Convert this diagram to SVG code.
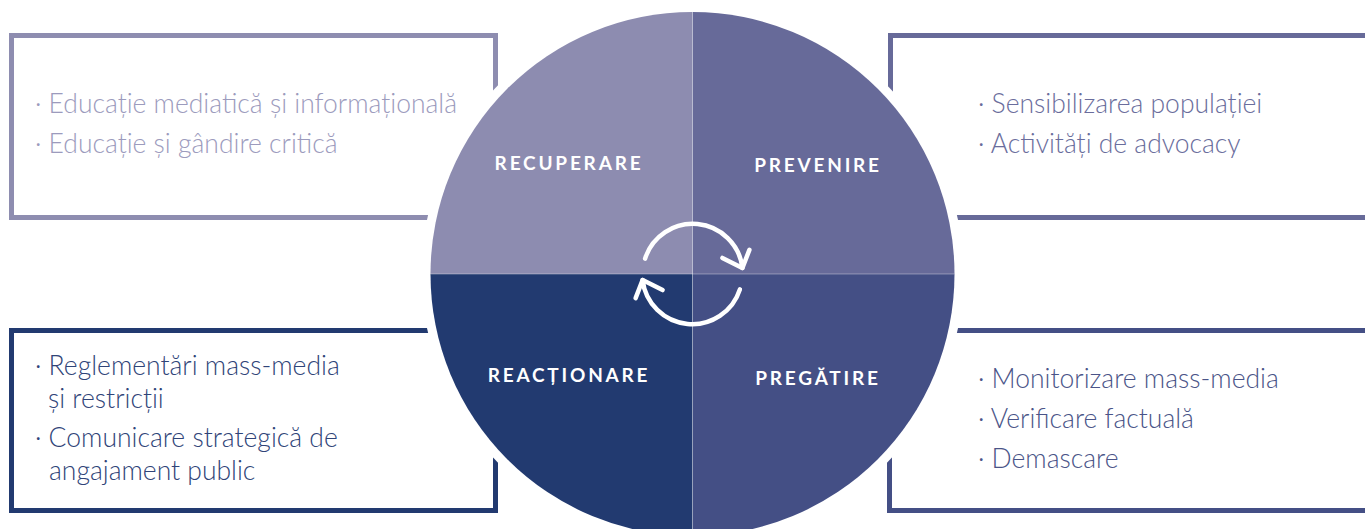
<svg xmlns="http://www.w3.org/2000/svg" width="1365" height="529" viewBox="0 0 1365 529">
<style>
.box{fill:none;stroke-width:5}
.item{font-family:Lato,"Liberation Sans",sans-serif;font-weight:300;font-size:26.5px}
.lbl{font-family:Lato,"Liberation Sans",sans-serif;font-weight:700;font-size:19px;letter-spacing:2.8px;fill:#fff;text-anchor:middle}
.arr{fill:none;stroke:#fff;stroke-width:4.5;stroke-linecap:round;stroke-linejoin:round}
</style>
<rect width="1365" height="529" fill="#fff"/>
<g id="box-recuperare">
<rect class="box" x="11.5" y="35.5" width="484" height="182" stroke="#8e8db0"/>
<text class="item" fill="#9c9bbd"><tspan x="35" y="113">· Educație mediatică și informațională</tspan><tspan x="35" y="153">· Educație și gândire critică</tspan></text>
</g>
<g id="box-prevenire">
<rect class="box" x="890.5" y="35.5" width="490" height="182" stroke="#676a99"/>
<text class="item" fill="#6a6d9c"><tspan x="978" y="113">· Sensibilizarea populației</tspan><tspan x="978" y="153">· Activități de advocacy</tspan></text>
</g>
<g id="box-reactionare">
<rect class="box" x="11.5" y="330.5" width="484" height="180" stroke="#223a70"/>
<text class="item" fill="#2f4478"><tspan x="35" y="375">· Reglementări mass-media</tspan><tspan x="48" y="408">și restricții</tspan><tspan x="35" y="447">· Comunicare strategică de</tspan><tspan x="49" y="480">angajament public</tspan></text>
</g>
<g id="box-pregatire">
<rect class="box" x="889.5" y="330.5" width="490" height="180" stroke="#444f85"/>
<text class="item" fill="#4a5488"><tspan x="978" y="388">· Monitorizare mass-media</tspan><tspan x="978" y="428">· Verificare factuală</tspan><tspan x="978" y="468">· Demascare</tspan></text>
</g>
<g id="cycle">
<circle cx="692.5" cy="274" r="271" fill="#fff"/>
<g id="q-recuperare"><path d="M692.5,274 L430.5,274 A262,262 0 0 1 692.5,12 Z" fill="#8d8cb0"/><text class="lbl" x="569" y="170">RECUPERARE</text></g>
<g id="q-prevenire"><path d="M692.5,274 L692.5,12 A262,262 0 0 1 954.5,274 Z" fill="#676a99"/><text class="lbl" x="818" y="172">PREVENIRE</text></g>
<g id="q-pregatire"><path d="M692.5,274 L954.5,274 A262,262 0 0 1 692.5,536 Z" fill="#444f85"/><text class="lbl" x="818" y="385">PREGĂTIRE</text></g>
<g id="q-reactionare"><path d="M692.5,274 L692.5,536 A262,262 0 0 1 430.5,274 Z" fill="#223a70"/><text class="lbl" x="569" y="382">REACȚIONARE</text></g>
<path d="M692.5,12 V536 M430.5,274 H954.5" stroke="#ffffff" stroke-opacity="0.35" stroke-width="1"/>
</g>
<g id="connectors">
<path class="arr" d="M645.1,258.6 A50,50 0 0 1 742.4,267.9"/>
<path class="arr" d="M722.4,257.9 L742.4,267.9 L749.4,249.9"/>
<path class="arr" d="M739.9,289.4 A50,50 0 0 1 642.6,280.1"/>
<path class="arr" d="M662.6,290.1 L642.6,280.1 L635.6,298.1"/>
</g>
</svg>
